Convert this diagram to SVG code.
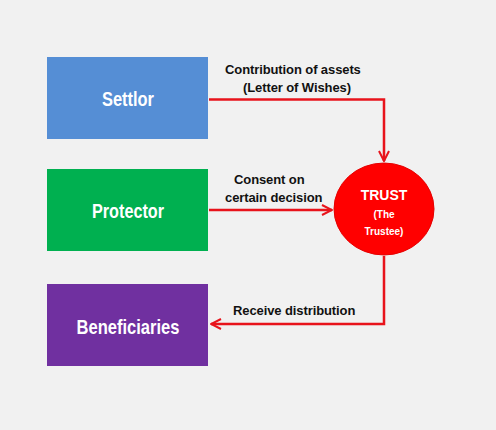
<svg xmlns="http://www.w3.org/2000/svg" width="496" height="430" viewBox="0 0 496 430">
<defs>
<style>
.box text{font-family:"Liberation Sans",Arial,sans-serif;font-weight:bold;fill:#fff;text-anchor:middle}
.lbl{font-family:"Liberation Sans",Arial,sans-serif;font-weight:bold;font-size:13px;fill:#111;letter-spacing:-0.1px}
.conn{fill:none;stroke:#e8131b;stroke-width:2.5}
</style>
<marker id="ah" viewBox="0 0 10 10" refX="9" refY="5" markerWidth="5" markerHeight="5" orient="auto" markerUnits="strokeWidth">
<path d="M1,1 L9,5 L1,9" fill="none" stroke="#e8131b" stroke-width="1.6"/>
</marker>
</defs>
<rect width="496" height="430" fill="#f1f1f1"/>
<g id="settlor" class="box">
<rect x="47" y="57" width="161" height="82" fill="#558ed5"/>
<text x="128" y="106" font-size="21" textLength="52" lengthAdjust="spacingAndGlyphs">Settlor</text>
</g>
<g id="protector" class="box">
<rect x="47" y="169" width="161" height="82" fill="#00b050"/>
<text x="128" y="218" font-size="21" textLength="72" lengthAdjust="spacingAndGlyphs">Protector</text>
</g>
<g id="beneficiaries" class="box">
<rect x="47" y="284" width="161" height="82" fill="#7030a0"/>
<text x="128" y="334" font-size="21" textLength="103" lengthAdjust="spacingAndGlyphs">Beneficiaries</text>
</g>
<g id="trust" class="box">
<ellipse cx="384" cy="209" rx="50" ry="46" fill="#ff0000" stroke="#e60000" stroke-width="1"/>
<text x="384" y="200" font-size="14">TRUST</text>
<text x="384" y="218" font-size="10">(The</text>
<text x="384" y="235" font-size="10">Trustee)</text>
</g>
<g id="connectors">
<path class="conn" d="M209,99.5 H384 V161" marker-end="url(#ah)"/>
<path class="conn" d="M209,210 H332" marker-end="url(#ah)"/>
<path class="conn" d="M384,256 V324 H211" marker-end="url(#ah)"/>
<text class="lbl" x="225" y="74">Contribution of assets</text>
<text class="lbl" x="243" y="92">(Letter of Wishes)</text>
<text class="lbl" x="234" y="184">Consent on</text>
<text class="lbl" x="225" y="202">certain decision</text>
<text class="lbl" x="233" y="315">Receive distribution</text>
</g>
</svg>
